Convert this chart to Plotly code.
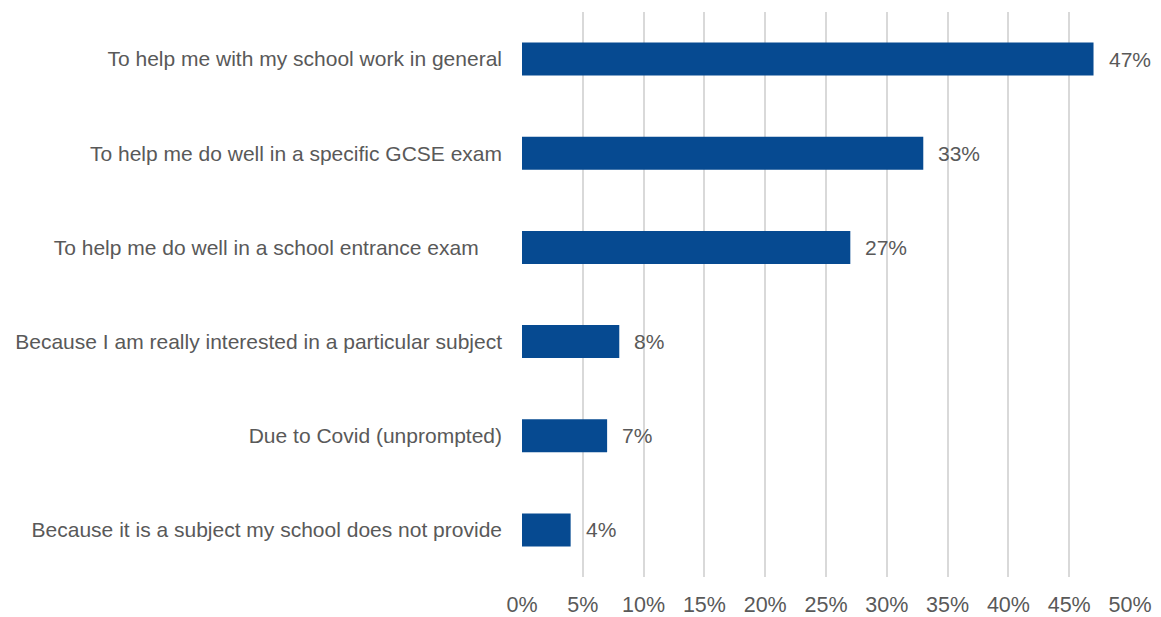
import plotly.graph_objects as go

categories = [
    "To help me with my school work in general",
    "To help me do well in a specific GCSE exam",
    "To help me do well in a school entrance exam\u00a0\u00a0\u00a0\u00a0",
    "Because I am really interested in a particular subject",
    "Due to Covid (unprompted)",
    "Because it is a subject my school does not provide",
]
values = [0.47, 0.33, 0.27, 0.08, 0.07, 0.04]
tick_vals = [i * 0.05 for i in range(11)]
tick_text = [f"{i*5}%" for i in range(11)]

font_family = "Liberation Sans, Arial, sans-serif"
grey = "#595959"

fig = go.Figure(go.Bar(
    x=values,
    y=categories,
    orientation="h",
    marker=dict(color="#064A91", line=dict(width=0)),
    hoverinfo="skip",
))

for c, v in zip(categories, values):
    fig.add_annotation(
        x=v, y=c, text=f"{round(v*100)}%", showarrow=False,
        xanchor="left", xshift=13, font=dict(size=21, color=grey, family=font_family),
    )

fig.update_layout(
    width=1161, height=617,
    margin=dict(l=522, r=31, t=12, b=40, autoexpand=False),
    paper_bgcolor="white", plot_bgcolor="white",
    bargap=0.65,
    showlegend=False,
    font=dict(family=font_family, size=21, color=grey),
    xaxis=dict(
        range=[0, 0.5], tickvals=tick_vals, ticktext=tick_text,
        showgrid=True, gridcolor="#D9D9D9", gridwidth=2,
        zeroline=False, showline=False, ticks="",
        automargin=False,
        ticklabelstandoff=12,
        tickfont=dict(size=21.5, color=grey),
    ),
    yaxis=dict(
        categoryorder="array", categoryarray=categories[::-1],
        showgrid=False, zeroline=False, showline=False, ticks="",
        automargin=False,
        ticklabelstandoff=19,
        tickfont=dict(size=21, color=grey),
    ),
)

fig.write_html(
    "out.html",
    config={"displayModeBar": False},
    post_script="document.body.style.margin='0';document.body.style.overflow='hidden';",
)
